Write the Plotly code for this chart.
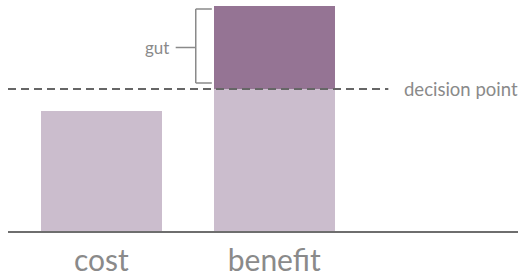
import plotly.graph_objects as go

categories = ["cost", "benefit"]
base_values = [120, 142]      # light part
gut_values = [0, 83]          # dark part on top of benefit
decision_point = 142
y_max = 231

x_pos = list(range(len(categories)))
light = "#CBBDCD"
dark = "#957494"
grey = "#8a8a8a"

fig = go.Figure()
fig.add_bar(x=x_pos, y=base_values, marker=dict(color=light, line=dict(width=0)), width=0.7, hoverinfo="skip")
fig.add_bar(x=x_pos, y=gut_values, marker=dict(color=dark, line=dict(width=0)), width=0.7, hoverinfo="skip")

x_lo, x_hi = -0.54, 2.41
# decision line
fig.add_shape(type="line", xref="x", yref="y", x0=x_lo, x1=1.66, y0=decision_point, y1=decision_point,
              line=dict(color="#666666", width=2, dash="8px,5px"))
fig.add_annotation(x=1.74, y=decision_point, xref="x", yref="y", text="decision point", showarrow=False,
                   xanchor="left", yanchor="middle", font=dict(family="Lato", size=18.5, color=grey))

# bracket for gut
b_top = base_values[1] + gut_values[1] - 3
b_bot = decision_point + 6
b_mid = decision_point + gut_values[1] / 2
bx = 0.546
bx2 = 0.639
br = dict(color=grey, width=1.5)
fig.add_shape(type="line", x0=bx, x1=bx, y0=b_bot, y1=b_top, line=br)
fig.add_shape(type="line", x0=bx, x1=bx2, y0=b_top, y1=b_top, line=br)
fig.add_shape(type="line", x0=bx, x1=bx2, y0=b_bot, y1=b_bot, line=br)
fig.add_shape(type="line", x0=0.43, x1=bx, y0=b_mid, y1=b_mid, line=br)
fig.add_annotation(x=0.405, y=b_mid, text="gut", showarrow=False, xanchor="right", yanchor="middle",
                   font=dict(family="Lato", size=17, color=grey))

fig.update_layout(
    width=520, height=276, barmode="stack", showlegend=False,
    margin=dict(l=8, r=2, t=0, b=45),
    paper_bgcolor="white", plot_bgcolor="white",
    bargap=0,
    xaxis=dict(range=[x_lo, x_hi], tickvals=x_pos, ticktext=categories, showgrid=False, zeroline=False,
               showline=True, linecolor="#6e6e6e", linewidth=2, ticks="", ticklabelstandoff=2,
               tickfont=dict(family="Lato", size=30, color=grey)),
    yaxis=dict(range=[0, y_max], visible=False, showgrid=False, zeroline=False),
)
fig.write_html("out.html", config={"displayModeBar": False, "staticPlot": True},
               post_script="document.body.style.margin='0';")
